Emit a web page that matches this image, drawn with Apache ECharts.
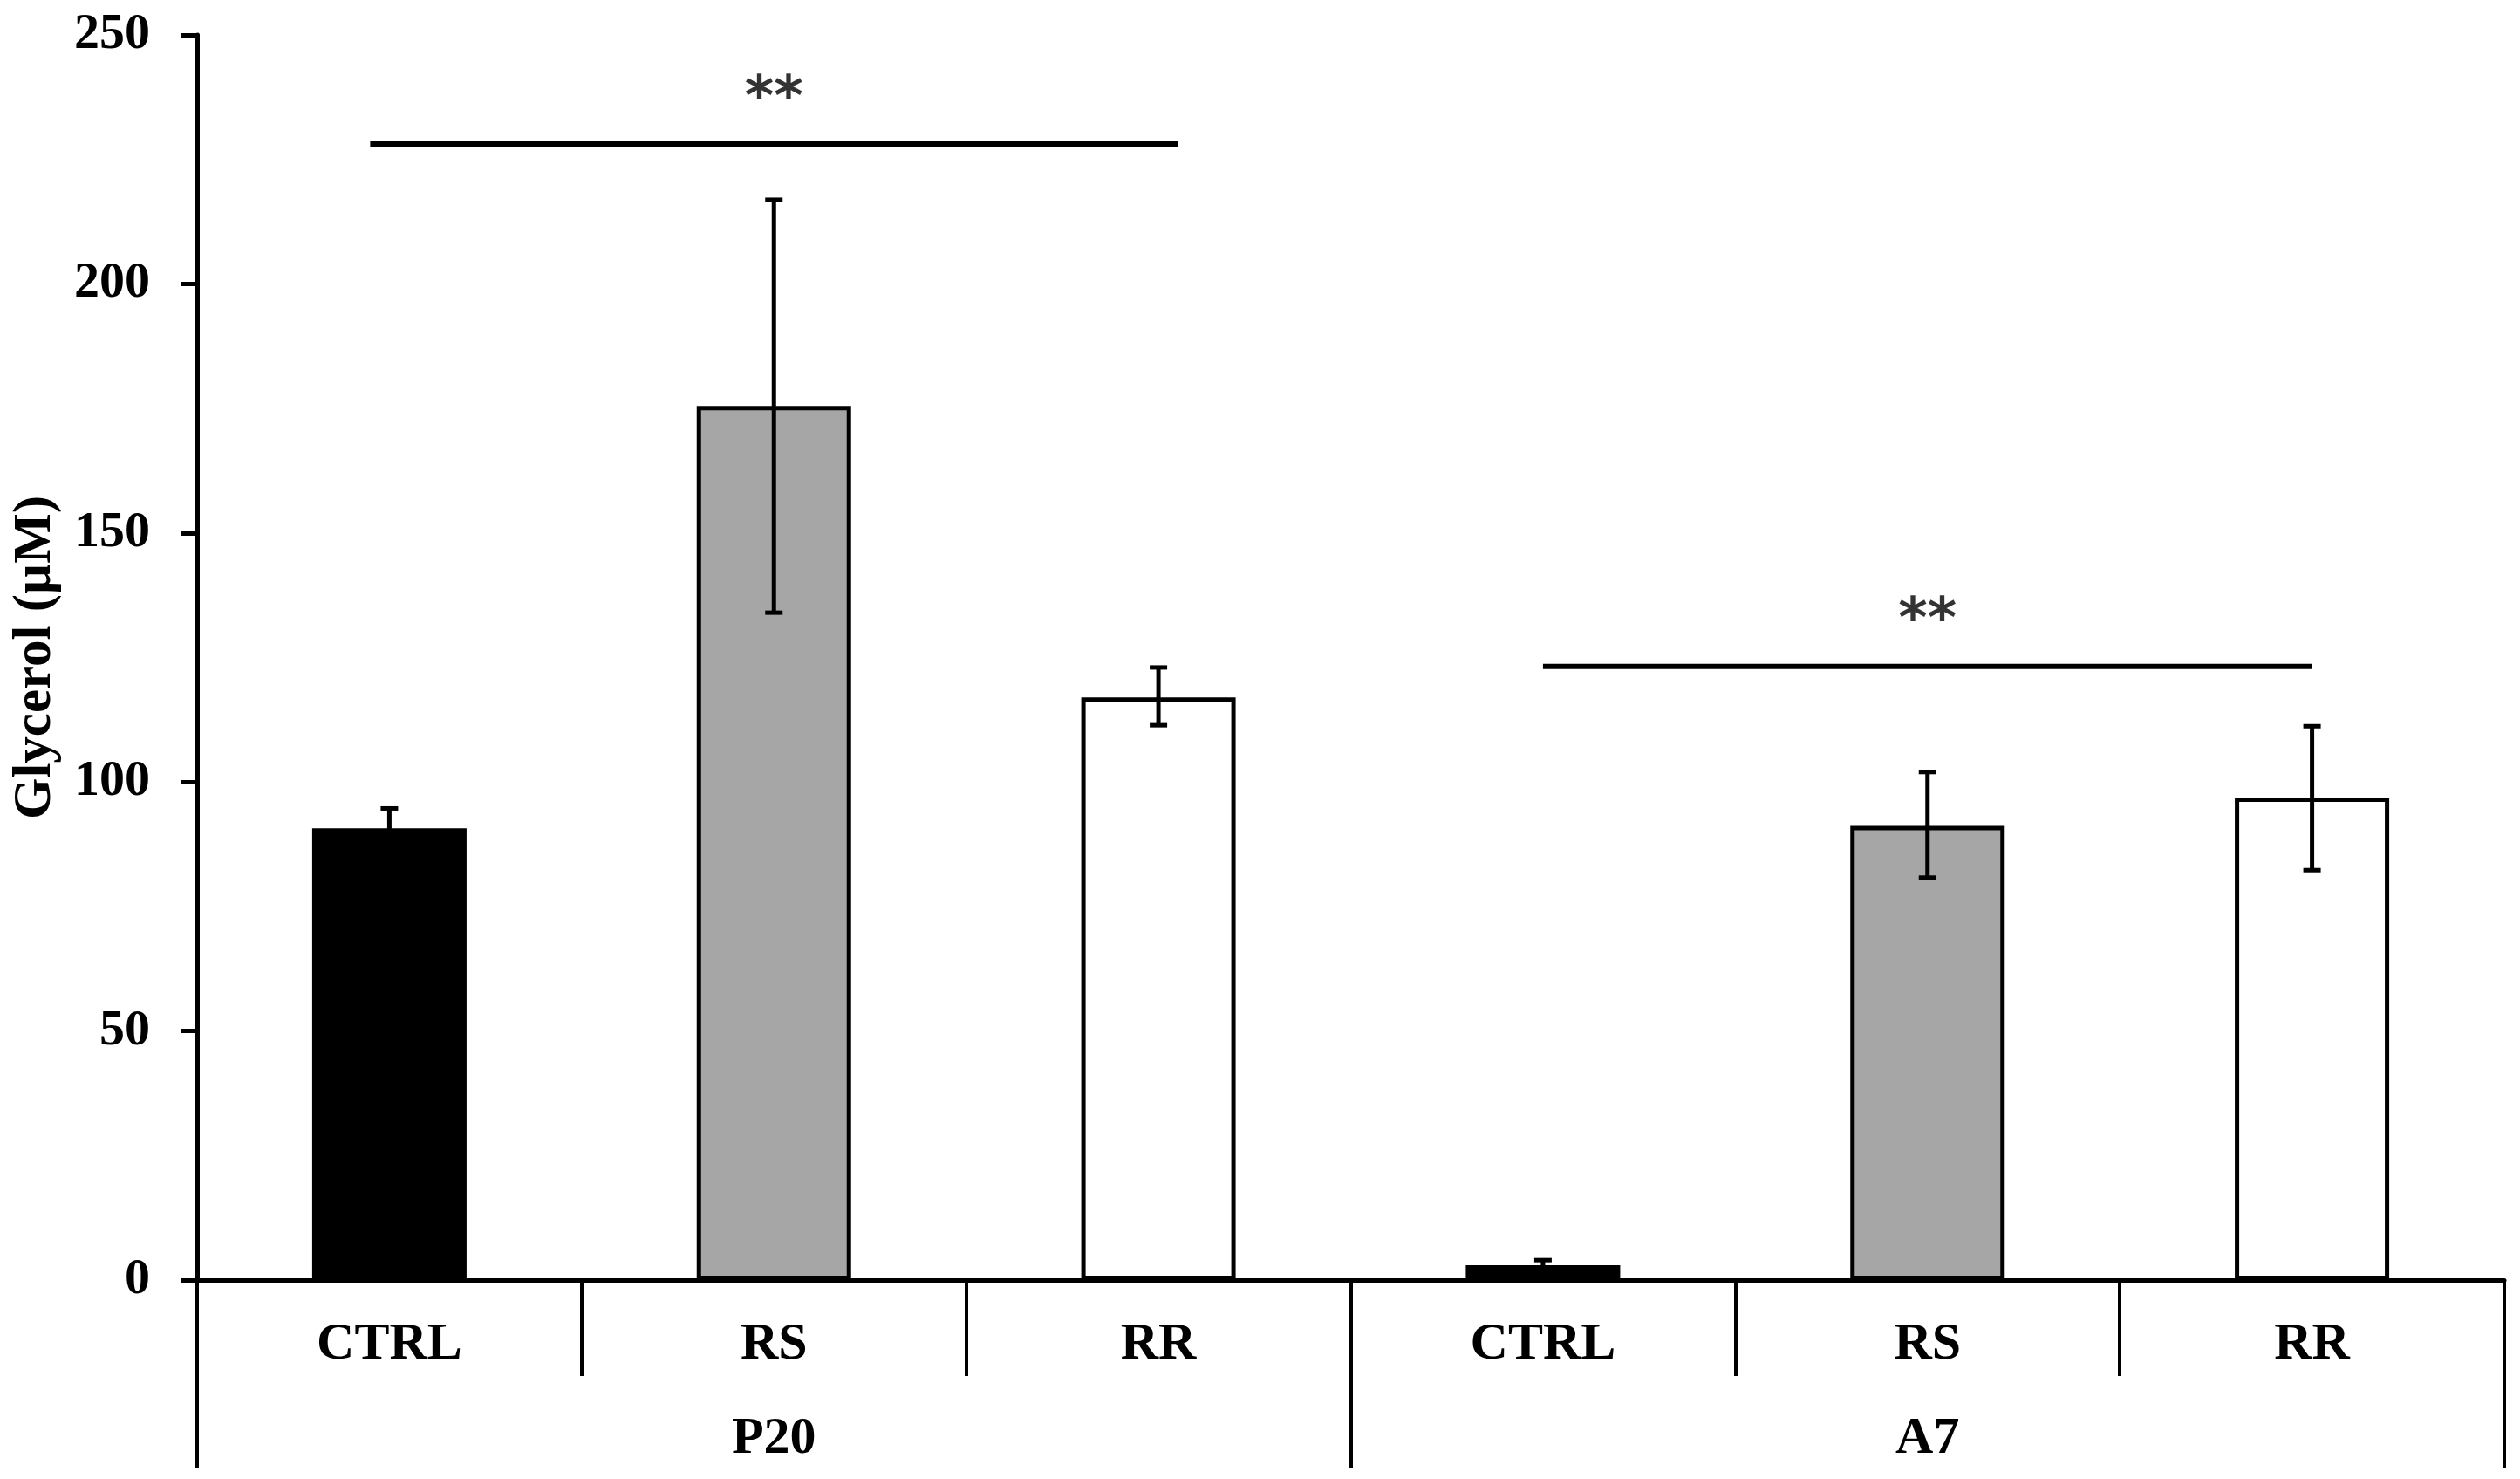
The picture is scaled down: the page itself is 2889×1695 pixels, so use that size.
<!DOCTYPE html>
<html>
<head>
<meta charset="utf-8">
<script src="https://cdn.jsdelivr.net/npm/echarts@6/dist/echarts.min.js"></script>
<style>
html,body{margin:0;padding:0;background:#fff;}
#chart{width:2889px;height:1695px;}
</style>
</head>
<body>
<div id="chart"></div>
<script>
// ---- data ----
const categories = ['CTRL', 'RS', 'RR', 'CTRL', 'RS', 'RR'];
const groups = ['P20', 'A7'];
const means = [90.7, 175.5, 117.0, 3.0, 91.2, 96.9];
const errLow = [86.7, 134.0, 111.4, 2.0, 80.8, 82.3];
const errHigh = [94.7, 216.9, 123.0, 4.0, 102.0, 111.2];
const barColors = ['#000000', '#a6a6a6', '#ffffff', '#000000', '#a6a6a6', '#ffffff'];
const yMin = 0, yMax = 250, yStep = 50;
// significance brackets (x in category-index units)
const sigStart = [-0.05, 3.0];
const sigEnd = [2.05, 5.0];
const sigY = [228.1, 123.2];
const sigText = ['**', '**'];

const FONT = 'Liberation Serif';
const chart = echarts.init(document.getElementById('chart'), null, {renderer: 'canvas'});

const sigLineSeries = sigStart.map((s, i) => ({
  type: 'line',
  xAxisIndex: 2,
  yAxisIndex: 0,
  data: [[s, sigY[i]], [sigEnd[i], sigY[i]]],
  symbol: 'none',
  lineStyle: {color: '#000', width: 6},
  silent: true,
  z: 5
}));

const option = {
  animation: false,
  backgroundColor: '#ffffff',
  grid: {left: 226, right: 18, top: 40, bottom: 228, containLabel: false, outerBoundsMode: 'none'},
  xAxis: [
    {
      type: 'category',
      data: categories,
      position: 'bottom',
      axisLine: {show: true, onZero: false, lineStyle: {color: '#000', width: 5}},
      axisTick: {show: true, interval: 0, length: 110, lineStyle: {color: '#000', width: 4}},
      axisLabel: {interval: 0, margin: 44, color: '#000', fontFamily: FONT, fontWeight: 'bold', fontSize: 60},
      splitLine: {show: false}
    },
    {
      type: 'category',
      data: groups,
      position: 'bottom',
      axisLine: {show: false, onZero: false},
      axisTick: {show: true, interval: 0, length: 215, lineStyle: {color: '#000', width: 4}},
      axisLabel: {interval: 0, margin: 152, color: '#000', fontFamily: FONT, fontWeight: 'bold', fontSize: 60},
      splitLine: {show: false}
    },
    {
      type: 'value',
      min: -0.5,
      max: 5.5,
      show: false
    }
  ],
  yAxis: {
    type: 'value',
    min: yMin,
    max: yMax,
    interval: yStep,
    position: 'left',
    name: 'Glycerol (µM)',
    nameLocation: 'middle',
    nameGap: 154,
    nameTextStyle: {color: '#000', fontFamily: FONT, fontWeight: 'bold', fontSize: 61},
    axisLine: {show: true, onZero: false, lineStyle: {color: '#000', width: 5}},
    axisTick: {show: true, length: 19, lineStyle: {color: '#000', width: 5}},
    axisLabel: {margin: 54, color: '#000', fontFamily: FONT, fontWeight: 'bold', fontSize: 58},
    splitLine: {show: false}
  },
  series: [
    {
      type: 'bar',
      xAxisIndex: 0,
      yAxisIndex: 0,
      barWidth: 177,
      data: means.map((v, i) => ({value: v, itemStyle: {color: barColors[i]}})),
      itemStyle: {borderColor: '#000', borderWidth: 5},
      z: 2
    },
    {
      type: 'custom',
      xAxisIndex: 0,
      yAxisIndex: 0,
      data: means.map((v, i) => [i, errLow[i], errHigh[i]]),
      encode: {x: 0, y: [1, 2]},
      renderItem: function (params, api) {
        const lo = api.coord([api.value(0), api.value(1)]);
        const hi = api.coord([api.value(0), api.value(2)]);
        const hw = 10;
        const st = {stroke: '#000', lineWidth: 5};
        return {
          type: 'group',
          children: [
            {type: 'line', shape: {x1: hi[0], y1: hi[1], x2: lo[0], y2: lo[1]}, style: st},
            {type: 'line', shape: {x1: hi[0] - hw, y1: hi[1], x2: hi[0] + hw, y2: hi[1]}, style: st},
            {type: 'line', shape: {x1: lo[0] - hw, y1: lo[1], x2: lo[0] + hw, y2: lo[1]}, style: st}
          ]
        };
      },
      silent: true,
      z: 4
    },
    ...sigLineSeries,
    {
      type: 'scatter',
      xAxisIndex: 2,
      yAxisIndex: 0,
      symbolSize: 1,
      itemStyle: {color: 'rgba(0,0,0,0)'},
      data: sigStart.map((s, i) => ({value: [(s + sigEnd[i]) / 2, sigY[i]], name: sigText[i]})),
      label: {
        show: true,
        position: 'inside',
        offset: [0, -50],
        formatter: p => p.name,
        color: '#000',
        fontFamily: 'DejaVu Sans',
        fontWeight: 'bold',
        fontSize: 64,
        align: 'center',
        verticalAlign: 'middle'
      },
      silent: true,
      z: 6
    }
  ]
};
chart.setOption(option);
</script>
</body>
</html>
